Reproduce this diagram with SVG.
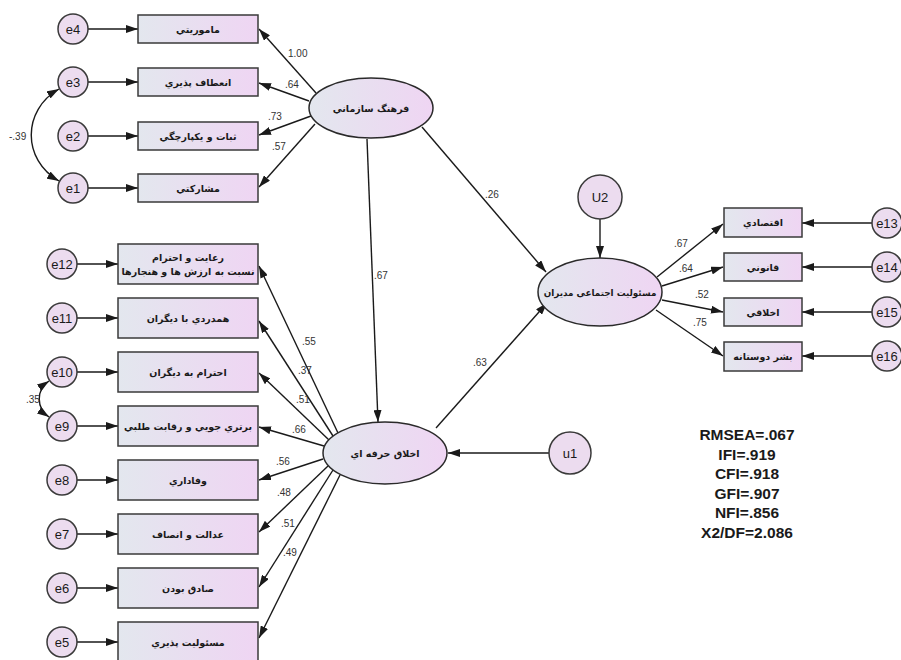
<svg xmlns="http://www.w3.org/2000/svg" width="901" height="660" viewBox="0 0 901 660">
<defs>
<linearGradient id="g" x1="0" y1="0" x2="1" y2="0">
<stop offset="0" stop-color="#e3e7ee"/>
<stop offset="1" stop-color="#efd5f3"/>
</linearGradient>
<marker id="a" viewBox="0 0 12 8" refX="12" refY="4" markerWidth="12" markerHeight="8" markerUnits="userSpaceOnUse" orient="auto-start-reverse">
<path d="M0,0 L12,4 L0,8 z" fill="#1a1a1a"/>
</marker>
<style>
.box{fill:url(#g);stroke:#3a3a3a;stroke-width:1.5}
.lat{fill:url(#g);stroke:#2a2a2a;stroke-width:1.5}
.err{fill:#ecdcef;stroke:#3a3a3a;stroke-width:1.5}
.ln{stroke:#1a1a1a;stroke-width:1.4;fill:none;marker-end:url(#a)}
.cv{stroke:#1a1a1a;stroke-width:1.4;fill:none;marker-end:url(#a);marker-start:url(#a)}
.ar{font-family:"DejaVu Sans",sans-serif;font-weight:bold;font-size:9.5px;fill:#1a1a1a;text-anchor:middle}
.el{font-family:"Liberation Sans",Arial,sans-serif;font-size:13px;fill:#1a1a1a;text-anchor:middle}
.nm{font-family:"Liberation Sans",Arial,sans-serif;font-size:10px;fill:#333}
.st{font-family:"Liberation Sans",Arial,sans-serif;font-weight:bold;font-size:15.5px;fill:#1a1a1a;text-anchor:middle}
</style>
</defs>
<rect width="901" height="660" fill="#fff"/>

<g id="connectors">
<line class="ln" x1="88" y1="29" x2="138" y2="29"/>
<line class="ln" x1="88" y1="82" x2="138" y2="82"/>
<line class="ln" x1="88" y1="136" x2="138" y2="136"/>
<line class="ln" x1="88" y1="188" x2="138" y2="188"/>
<line class="ln" x1="77" y1="264" x2="118" y2="264"/>
<line class="ln" x1="77" y1="318" x2="118" y2="318"/>
<line class="ln" x1="77" y1="372" x2="118" y2="372"/>
<line class="ln" x1="77" y1="426" x2="118" y2="426"/>
<line class="ln" x1="77" y1="480" x2="118" y2="480"/>
<line class="ln" x1="77" y1="534" x2="118" y2="534"/>
<line class="ln" x1="77" y1="588" x2="118" y2="588"/>
<line class="ln" x1="77" y1="642" x2="118" y2="642"/>
<line class="ln" x1="872" y1="223" x2="802" y2="223"/>
<line class="ln" x1="872" y1="267" x2="802" y2="267"/>
<line class="ln" x1="872" y1="312" x2="802" y2="312"/>
<line class="ln" x1="872" y1="356" x2="802" y2="356"/>
<line class="ln" x1="316" y1="93" x2="259" y2="29"/>
<line class="ln" x1="309" y1="101" x2="259" y2="83"/>
<line class="ln" x1="311" y1="116" x2="259" y2="135"/>
<line class="ln" x1="315" y1="124" x2="259" y2="187"/>
<line class="ln" x1="338" y1="433" x2="259" y2="266"/>
<line class="ln" x1="333" y1="436" x2="259" y2="321"/>
<line class="ln" x1="329" y1="440" x2="259" y2="373"/>
<line class="ln" x1="324" y1="446" x2="259" y2="427"/>
<line class="ln" x1="323" y1="459" x2="259" y2="480"/>
<line class="ln" x1="328" y1="466" x2="259" y2="532"/>
<line class="ln" x1="333" y1="470" x2="259" y2="587"/>
<line class="ln" x1="340" y1="475" x2="259" y2="638"/>
<line class="ln" x1="367" y1="139" x2="378" y2="422"/>
<line class="ln" x1="422" y1="127" x2="546" y2="272"/>
<line class="ln" x1="436" y1="428" x2="547" y2="303"/>
<line class="ln" x1="600" y1="219" x2="600" y2="258"/>
<line class="ln" x1="549" y1="453" x2="448" y2="453"/>
<line class="ln" x1="657" y1="277" x2="723" y2="224"/>
<line class="ln" x1="662" y1="286" x2="723" y2="267"/>
<line class="ln" x1="662" y1="300" x2="723" y2="312"/>
<line class="ln" x1="656" y1="310" x2="723" y2="356"/>
<path class="cv" d="M59,89 C22,110 22,160 59,181"/>
<path class="cv" d="M49,381 C36,390 36,408 49,417"/>
<text class="nm" x="288" y="57">1.00</text>
<text class="nm" x="285" y="88">.64</text>
<text class="nm" x="268" y="120">.73</text>
<text class="nm" x="272" y="150">.57</text>
<text class="nm" x="9" y="140">-.39</text>
<text class="nm" x="374" y="279">.67</text>
<text class="nm" x="302" y="345">.55</text>
<text class="nm" x="298" y="374">.37</text>
<text class="nm" x="296" y="403">.51</text>
<text class="nm" x="292" y="433">.66</text>
<text class="nm" x="26" y="403">.35</text>
<text class="nm" x="276" y="465">.56</text>
<text class="nm" x="277" y="496">.48</text>
<text class="nm" x="281" y="527">.51</text>
<text class="nm" x="283" y="556">.49</text>
<text class="nm" x="485" y="198">.26</text>
<text class="nm" x="473" y="366">.63</text>
<text class="nm" x="674" y="247">.67</text>
<text class="nm" x="679" y="272">.64</text>
<text class="nm" x="695" y="298">.52</text>
<text class="nm" x="693" y="326">.75</text>
</g>

<g id="e4"><circle class="err" cx="73" cy="29" r="15"/><text class="el" x="73" y="34">e4</text></g>
<g id="e3"><circle class="err" cx="73" cy="82" r="15"/><text class="el" x="73" y="87">e3</text></g>
<g id="e2"><circle class="err" cx="73" cy="136" r="15"/><text class="el" x="73" y="141">e2</text></g>
<g id="e1"><circle class="err" cx="73" cy="188" r="15"/><text class="el" x="73" y="193">e1</text></g>

<g id="x1"><rect class="box" x="138" y="15" width="120" height="28"/><text class="ar" x="198" y="33">ماموريتي</text></g>
<g id="x2"><rect class="box" x="138" y="68" width="120" height="28"/><text class="ar" x="198" y="86">انعطاف پذيري</text></g>
<g id="x3"><rect class="box" x="138" y="122" width="120" height="28"/><text class="ar" x="198" y="140">ثبات و يکپارچگي</text></g>
<g id="x4"><rect class="box" x="138" y="174" width="120" height="28"/><text class="ar" x="198" y="192">مشارکتي</text></g>

<g id="farhang"><ellipse class="lat" cx="371" cy="108" rx="62" ry="30"/><text class="ar" x="371" y="112">فرهنگ سازماني</text></g>

<g id="e12"><circle class="err" cx="62" cy="264" r="15"/><text class="el" x="62" y="269">e12</text></g>
<g id="e11"><circle class="err" cx="62" cy="318" r="15"/><text class="el" x="62" y="323">e11</text></g>
<g id="e10"><circle class="err" cx="62" cy="372" r="15"/><text class="el" x="62" y="377">e10</text></g>
<g id="e9"><circle class="err" cx="62" cy="426" r="15"/><text class="el" x="62" y="431">e9</text></g>
<g id="e8"><circle class="err" cx="62" cy="480" r="15"/><text class="el" x="62" y="485">e8</text></g>
<g id="e7"><circle class="err" cx="62" cy="534" r="15"/><text class="el" x="62" y="539">e7</text></g>
<g id="e6"><circle class="err" cx="62" cy="588" r="15"/><text class="el" x="62" y="593">e6</text></g>
<g id="e5"><circle class="err" cx="62" cy="642" r="15"/><text class="el" x="62" y="647">e5</text></g>

<g id="y12"><rect class="box" x="118" y="244" width="140" height="40"/><text class="ar" x="188" y="261">رعايت و احترام</text><text class="ar" x="188" y="275">نسبت به ارزش ها و هنجارها</text></g>
<g id="y11"><rect class="box" x="118" y="298" width="140" height="40"/><text class="ar" x="188" y="322">همدردي با ديگران</text></g>
<g id="y10"><rect class="box" x="118" y="352" width="140" height="40"/><text class="ar" x="188" y="376">احترام به ديگران</text></g>
<g id="y9"><rect class="box" x="118" y="406" width="140" height="40"/><text class="ar" x="188" y="430">برتري جويي و رقابت طلبي</text></g>
<g id="y8"><rect class="box" x="118" y="460" width="140" height="40"/><text class="ar" x="188" y="484">وفاداري</text></g>
<g id="y7"><rect class="box" x="118" y="514" width="140" height="40"/><text class="ar" x="188" y="538">عدالت و انصاف</text></g>
<g id="y6"><rect class="box" x="118" y="568" width="140" height="40"/><text class="ar" x="188" y="592">صادق بودن</text></g>
<g id="y5"><rect class="box" x="118" y="622" width="140" height="40"/><text class="ar" x="188" y="646">مسئوليت پذيري</text></g>

<g id="akhlagh"><ellipse class="lat" cx="385" cy="453" rx="62" ry="31"/><text class="ar" x="385" y="457">اخلاق حرفه اي</text></g>
<g id="u1"><circle class="err" cx="570" cy="453" r="21"/><text class="el" x="570" y="458">u1</text></g>

<g id="masouliat"><ellipse class="lat" cx="600" cy="292" rx="62" ry="34"/><text class="ar" x="600" y="296" style="font-size:8.8px">مسئوليت اجتماعي مديران</text></g>
<g id="U2"><circle class="err" cx="600" cy="197" r="22"/><text class="el" x="600" y="202">U2</text></g>

<g id="z1"><rect class="box" x="724" y="208" width="78" height="29"/><text class="ar" x="763" y="226">اقتصادي</text></g>
<g id="z2"><rect class="box" x="724" y="253" width="78" height="28"/><text class="ar" x="763" y="271">قانوني</text></g>
<g id="z3"><rect class="box" x="724" y="298" width="78" height="28"/><text class="ar" x="763" y="316">اخلاقي</text></g>
<g id="z4"><rect class="box" x="724" y="342" width="78" height="29"/><text class="ar" x="763" y="360">بشر دوستانه</text></g>

<g id="e13"><circle class="err" cx="887" cy="223" r="15"/><text class="el" x="887" y="228">e13</text></g>
<g id="e14"><circle class="err" cx="887" cy="267" r="15"/><text class="el" x="887" y="272">e14</text></g>
<g id="e15"><circle class="err" cx="887" cy="312" r="15"/><text class="el" x="887" y="317">e15</text></g>
<g id="e16"><circle class="err" cx="887" cy="356" r="15"/><text class="el" x="887" y="361">e16</text></g>

<g id="fit">
<text class="st" x="747" y="440">RMSEA=.067</text>
<text class="st" x="747" y="460">IFI=.919</text>
<text class="st" x="747" y="479">CFI=.918</text>
<text class="st" x="747" y="499">GFI=.907</text>
<text class="st" x="747" y="518">NFI=.856</text>
<text class="st" x="747" y="538">X2/DF=2.086</text>
</g>
</svg>
